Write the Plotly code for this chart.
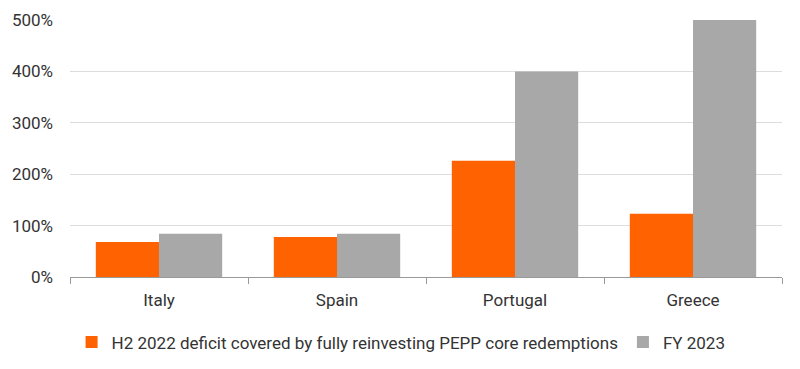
import plotly.graph_objects as go

categories = ["Italy", "Spain", "Portugal", "Greece"]
h2_2022 = [68, 78, 226, 123]
fy_2023 = [84, 84, 400, 500]
series_names = ["H2 2022 deficit covered by fully reinvesting PEPP core redemptions", "FY 2023"]
y_ticks = [0, 100, 200, 300, 400, 500]
y_tick_labels = ["0%", "100%", "200%", "300%", "400%", "500%"]

fig = go.Figure()
fig.add_trace(go.Bar(x=categories, y=h2_2022, name=series_names[0],
                     marker=dict(color="#FF6200", line=dict(width=0))))
fig.add_trace(go.Bar(x=categories, y=fy_2023, name=series_names[1],
                     marker=dict(color="#A8A8A8", line=dict(width=0))))

fig.update_layout(
    width=784, height=353,
    margin=dict(l=62, r=10, t=12, b=84, autoexpand=False),
    plot_bgcolor="white", paper_bgcolor="white",
    barmode="group", bargap=0.29, bargroupgap=0,
    font=dict(family="Roboto, sans-serif", size=17, color="#333333"),
    showlegend=True,
    legend=dict(orientation="h", x=0.465, xanchor="center", y=-0.185, yanchor="top",
                font=dict(size=17, color="#333333"), itemwidth=30,
                traceorder="normal"),
    xaxis=dict(showline=True, linecolor="#999999", linewidth=1,
               ticks="outside", tickson="boundaries", ticklen=6, tickcolor="#999999",
               showgrid=False, automargin=False, ticklabelstandoff=8),
    yaxis=dict(range=[0, 500], tickmode="array", tickvals=y_ticks, ticktext=y_tick_labels,
               showgrid=True, gridcolor="#DDDDDD", gridwidth=1,
               zeroline=False, showline=False, ticks="", automargin=False,
               ticklabelstandoff=16),
)

fig.write_html("out.html")
